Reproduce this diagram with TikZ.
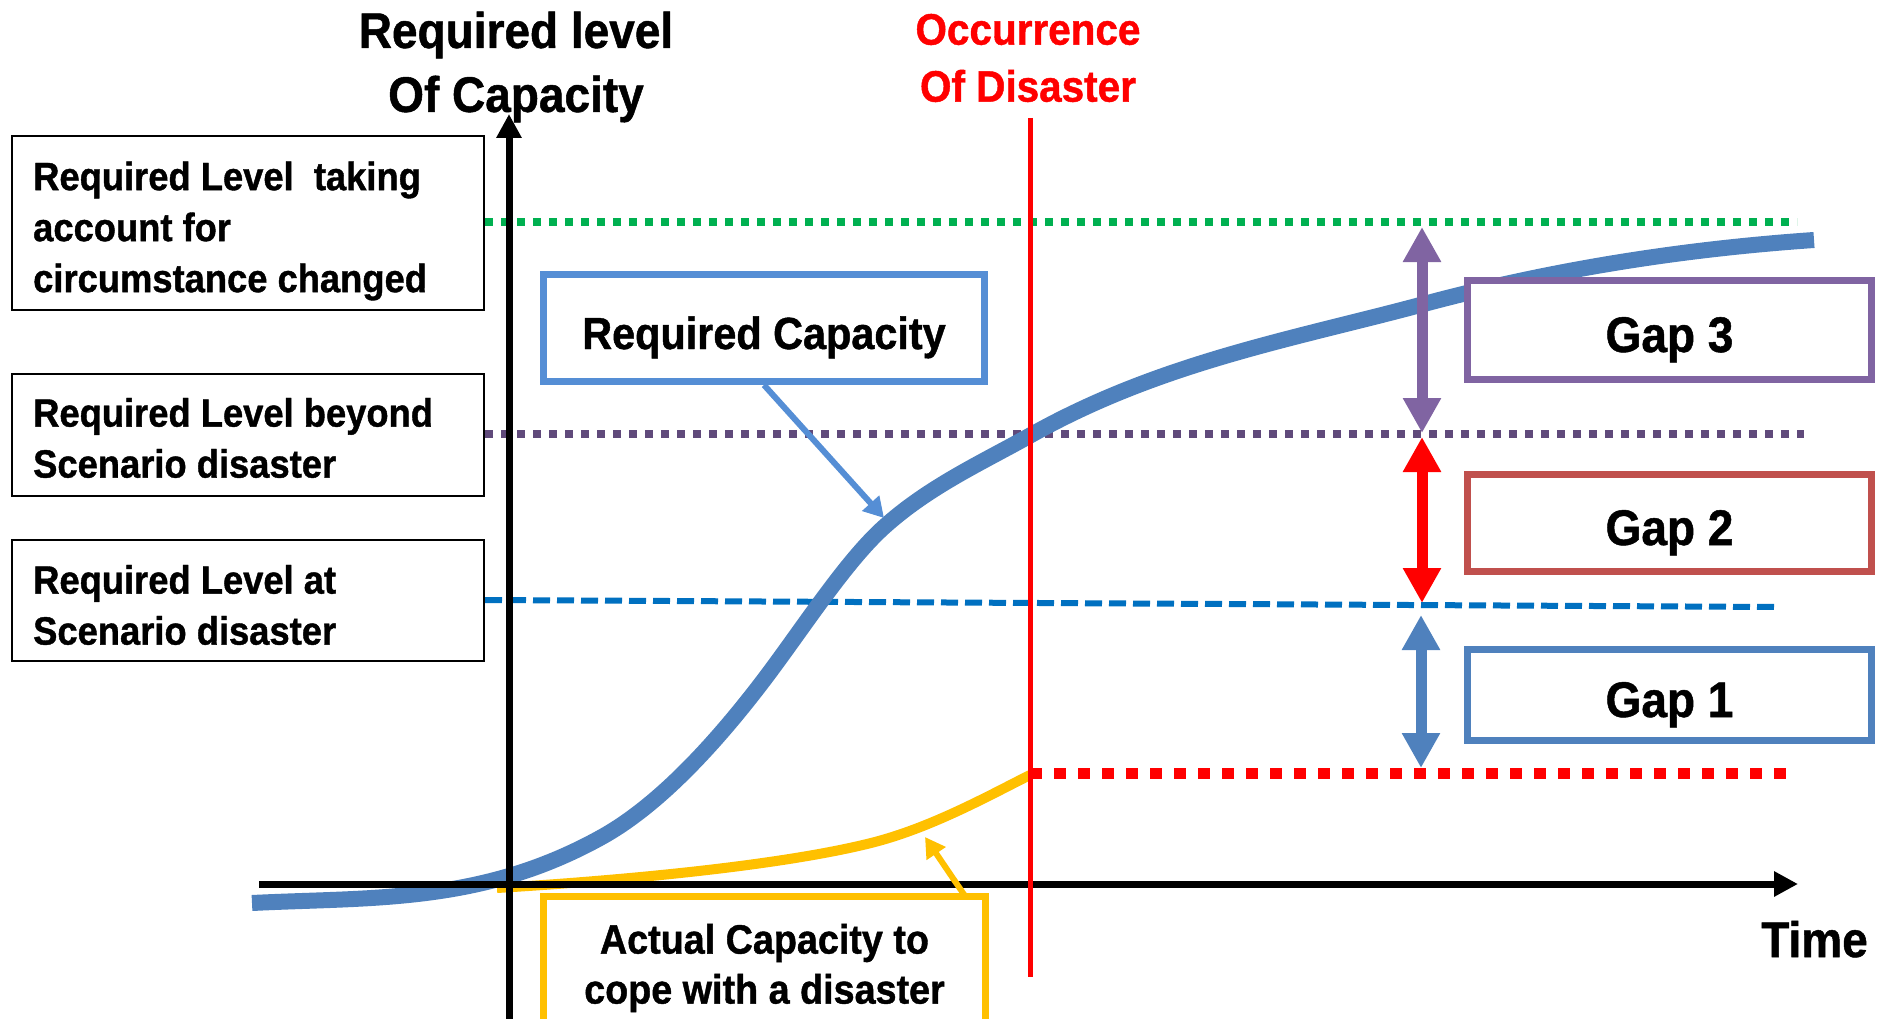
\documentclass[tikz,border=0pt]{standalone}
\usepackage{fontspec}
\newfontfamily\bfont{Liberation Sans Bold}[FakeStretch=0.92, FakeBold=1]
\usetikzlibrary{arrows.meta}
\definecolor{cgreen}{HTML}{00B050}
\definecolor{cpurpdot}{HTML}{604A7B}
\definecolor{cbluedash}{HTML}{0070C0}
\definecolor{ccurve}{HTML}{4F81BD}
\definecolor{creqbox}{HTML}{558ED5}
\definecolor{cgap3}{HTML}{8064A2}
\definecolor{cgap2}{HTML}{C0504D}
\definecolor{cyellow}{HTML}{FFC000}
\begin{document}
\begin{tikzpicture}[x=1pt,y=-1pt,
  lbox/.style={draw=black, line width=2pt, fill=white, minimum width=472pt, inner sep=0pt},
  ltext/.style={font=\bfont\fontsize{39.5}{51}\selectfont, align=left, anchor=west, inner sep=0pt},
  gapbox/.style={line width=7pt, fill=white, minimum width=404pt, inner sep=0pt,
    font=\bfont\fontsize{50}{60}\selectfont, text height=48pt, text depth=4pt},
  dotlvl/.style={line width=8pt, dash pattern=on 8pt off 8pt},
  axisline/.style={line width=7pt, -{Triangle[width=24pt,length=24pt]}},
  gaparrow/.style={line width=11pt, {Triangle[width=36pt,length=35pt]}-{Triangle[width=36pt,length=35pt]}},
  callout/.style={line width=6pt, -{Triangle[width=22pt,length=20pt]}}
]
\useasboundingbox (0,0) rectangle (1885,1019);

% level lines
\coordinate (gL) at (485,222); \coordinate (gR) at (1797,222);
\coordinate (pL) at (485,434); \coordinate (pR) at (1804,434);
\coordinate (bL) at (485,600); \coordinate (bR) at (1779,607);
\coordinate (rL) at (1030,773); \coordinate (rR) at (1789,773);
\draw[dotlvl, cgreen] (gL) -- (gR);
\draw[dotlvl, cpurpdot] (pL) -- (pR);
\draw[line width=6pt, cbluedash, dash pattern=on 17pt off 7pt] (bL) -- (bR);

% required capacity curve
\draw[line width=16pt, ccurve]
  (252,903) .. controls (372,897) and (480,904) .. (600,838)
            .. controls (655,808) and (710,750) .. (760,685)
            .. controls (800,633) and (844,563) .. (884,527)
            .. controls (929,486.5) and (981,463) .. (1031,435)
            .. controls (1161,362) and (1294,339) .. (1424,304)
            .. controls (1554,269) and (1684,249) .. (1814,240);
% actual capacity curve
\draw[line width=10pt, cyellow]
  (497,888) .. controls (597,882) and (771,868) .. (871,843)
            .. controls (931,828) and (990,795) .. (1030,775);

% red dotted after disaster
\draw[line width=11pt, red, dash pattern=on 12pt off 12pt] (rL) -- (rR);

% axes
\coordinate (xa0) at (259,884); \coordinate (xa1) at (1798,884);
\coordinate (ya0) at (509,1030); \coordinate (ya1) at (509,114);
\draw[axisline] (xa0) -- (xa1);
\draw[axisline] (ya0) -- (ya1);

% disaster line
\coordinate (rv1) at (1030,118); \coordinate (rv2) at (1030,977);
\draw[red, line width=5pt] (rv1) -- (rv2);

% left boxes
\node[lbox, minimum height=174pt] (b1) at (248,223) {};
\node[lbox, minimum height=122pt] (b2) at (248,435) {};
\node[lbox, minimum height=121pt] (b3) at (248,600.5) {};
\node[ltext] (t1) at (33,231) {Required Level\ \ taking\\account for\\circumstance changed};
\node[ltext] (t2) at (33,438) {Required Level beyond\\Scenario disaster};
\node[ltext] (t3) at (33,605) {Required Level at\\Scenario disaster};

% titles
\node[font=\bfont\fontsize{50}{64}\selectfont, align=center, inner sep=0pt] (ylab) at (516,67) {Required level\\Of Capacity};
\node[font=\bfont\fontsize{44}{57}\selectfont, align=center, inner sep=0pt, text=red] (occ) at (1028,58) {Occurrence\\Of Disaster};
\node[font=\bfont\fontsize{50}{60}\selectfont, anchor=base, inner sep=0pt] (time) at (1814.5,957) {Time};

% required capacity box
\node[draw=creqbox, line width=7pt, fill=white, minimum width=441pt, minimum height=107pt, inner sep=0pt,
  font=\bfont\fontsize{45}{54}\selectfont, text height=46pt, text depth=4pt] (rc) at (764,328) {Required Capacity};
\coordinate (rcend) at (884,518);
\draw[callout, creqbox] (rc.south) -- (rcend);

% actual capacity box
\node[draw=cyellow, line width=7pt, fill=white, minimum width=442pt, minimum height=143pt, inner sep=0pt,
  font=\bfont\fontsize{41}{50}\selectfont, align=center] (ac) at (764.5,968) {Actual Capacity to\\cope with a disaster};
\coordinate (ac1) at (965,896);
\coordinate (acend) at (925,837);
\draw[callout, cyellow] (ac1) -- (acend);

% gap boxes
\node[gapbox, draw=cgap3, minimum height=99pt] (gap3) at (1669.5,330) {Gap 3};
\node[gapbox, draw=cgap2, minimum height=97pt] (gap2) at (1669.5,523) {Gap 2};
\node[gapbox, draw=ccurve, minimum height=91pt] (gap1) at (1669.5,695) {Gap 1};

% gap arrows
\coordinate (g3a) at (1422,227); \coordinate (g3b) at (1422,433);
\coordinate (g2a) at (1422,437); \coordinate (g2b) at (1422,603);
\coordinate (g1a) at (1421,615); \coordinate (g1b) at (1421,768);
\draw[gaparrow, cgap3] (g3a) -- (g3b);
\draw[gaparrow, red] (g2a) -- (g2b);
\draw[gaparrow, ccurve] (g1a) -- (g1b);
\end{tikzpicture}
\end{document}
